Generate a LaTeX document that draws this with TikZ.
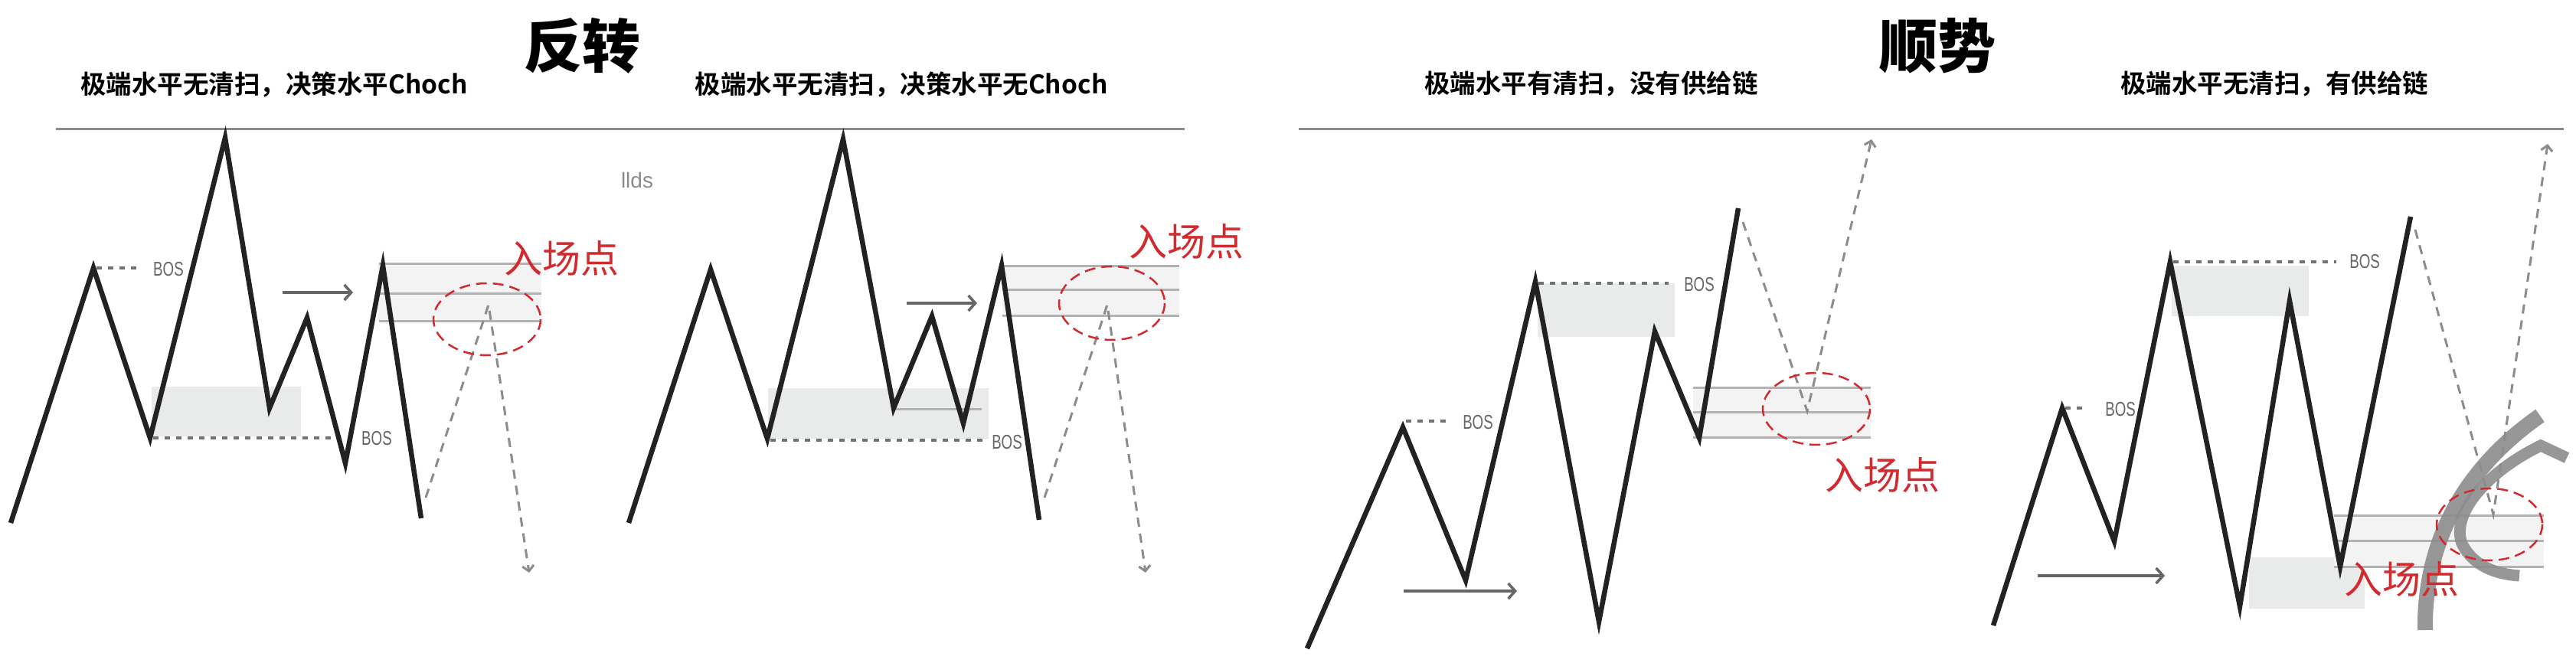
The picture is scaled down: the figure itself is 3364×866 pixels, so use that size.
\documentclass[tikz,border=0pt]{standalone}
\usepackage{fontspec}
\usetikzlibrary{arrows.meta}
\newfontfamily\cjk{Noto Sans CJK SC}[BoldFont={Noto Sans CJK SC Bold}]
\newfontfamily\cjkblack{Noto Sans CJK SC Black}
\newfontfamily\bosfont[FakeStretch=0.72]{Liberation Sans}
\definecolor{linha}{HTML}{222222}
\definecolor{cinza}{HTML}{8C8C8C}
\definecolor{zona}{HTML}{F3F3F3}
\definecolor{caixa}{HTML}{E9EAEA}
\definecolor{vermelho}{HTML}{D12B2F}
\begin{document}
\begin{tikzpicture}[x=1pt,y=-1pt,
	grafico/.style={line width=6.5pt, color=linha, miter limit=20},
	bosline/.style={line width=3.5pt, color=black!55, dash pattern=on 7pt off 8pt},
	projecao/.style={line width=3pt, color=black!45, dash pattern=on 12pt off 9pt, -{Straight Barb[length=7pt,width=15pt]}},
	seta/.style={line width=3.5pt, color=black!60, -{Straight Barb[length=9pt,width=20pt]}},
	zonalinha/.style={line width=3pt, color=black!30},
	entrada/.style={line width=2.5pt, color=vermelho, dash pattern=on 14pt off 8pt},
	titulo/.style={inner sep=0pt, font=\cjkblack\fontsize{76}{80}\selectfont},
	subtitulo/.style={inner sep=0pt, font=\cjk\bfseries\fontsize{33.5}{38}\selectfont},
	entradatxt/.style={inner sep=0pt, text=vermelho, font=\cjk\fontsize{50}{56}\selectfont},
	bos/.style={inner sep=0pt, text=black!60, font=\bosfont\fontsize{26}{28}\selectfont},
	regua/.style={line width=3pt, color=black!45}]
	\useasboundingbox (0,0) rectangle (3364,866); %Tamanho da figura
						%Titulos
	\node[subtitulo] (sub1) at (358,110) {极端水平无清扫，决策水平Choch};
	\node[titulo] (tit1) at (760,60) {反转};
	\node[subtitulo] (sub2) at (1177,110) {极端水平无清扫，决策水平无Choch};
	\node[subtitulo] (sub3) at (2078,110) {极端水平有清扫，没有供给链};
	\node[titulo] (tit2) at (2530,60) {顺势};
	\node[subtitulo] (sub4) at (2970,110) {极端水平无清扫，有供给链};
	\draw[regua] (73,169) -- (1547,169); %Linha reversao
	\draw[regua] (1696,169) -- (3348,169); %Linha tendencia
	\node[inner sep=0pt, text=black!45, font=\fontspec{Liberation Sans}\fontsize{28}{30}\selectfont] (llds) at (832,235) {llds};
						%Painel 1
	\fill[caixa] (198,505) rectangle (393,570); %Caixa
	\fill[zona] (493,345) rectangle (707,419); %Zona
	\foreach \y in {345,383,419} \draw[zonalinha] (495,\y) -- (707,\y);
	\draw[bosline] (126,350) -- (180,350); %BOS alto
	\node[bos] (bos1) at (220,352) {BOS};
	\draw[bosline] (200,572) -- (445,572); %BOS baixo
	\node[bos] (bos2) at (492,573) {BOS};
	\draw[seta] (369,382) -- (461,382);
	\draw[grafico] (14,683) -- (122,350) -- (196,572) -- (294,180) -- (352,533) -- (401,415) -- (451,605) -- (500,347) -- (550,677);
	\draw[projecao] (556,650) -- (638,398) -- (691,748);
	\draw[entrada] (636,417) ellipse [x radius=70, y radius=47];
	\node[entradatxt] (ent1) at (733,337) {入场点};
						%Painel 2
	\fill[caixa] (1003,507) rectangle (1291,573);
	\fill[zona] (1309,348) rectangle (1540,412);
	\foreach \y in {348,378,412} \draw[zonalinha] (1309,\y) -- (1540,\y);
	\draw[zonalinha] (1169,534) -- (1282,534); %Linha da minima
	\draw[bosline] (1006,575) -- (1285,575);
	\node[bos] (bos3) at (1315,578) {BOS};
	\draw[seta] (1184,396) -- (1276,396);
	\draw[grafico] (821,683) -- (928,352) -- (1002,573) -- (1101,182) -- (1167,533) -- (1217,413) -- (1258,553) -- (1308,347) -- (1357,679);
	\draw[projecao] (1364,650) -- (1446,398) -- (1496,748);
	\draw[entrada] (1452,396) ellipse [x radius=69, y radius=48];
	\node[entradatxt] (ent2) at (1549,315) {入场点};
						%Painel 3
	\fill[caixa] (2008,370) rectangle (2187,440);
	\fill[zona] (2211,506) rectangle (2443,571);
	\foreach \y in {506,538,571} \draw[zonalinha] (2211,\y) -- (2443,\y);
	\draw[bosline] (2009,370) -- (2179,370);
	\node[bos] (bos4) at (2219,372) {BOS};
	\draw[bosline] (1836,550) -- (1889,550);
	\node[bos] (bos5) at (1930,552) {BOS};
	\draw[seta] (1833,772) -- (1981,772);
	\draw[grafico] (1707,847) -- (1832,558) -- (1914,758) -- (2005,368) -- (2088,812) -- (2161,433) -- (2219,572) -- (2270,272);
	\draw[projecao] (2276,290) -- (2360,537) -- (2444,182);
	\draw[entrada] (2372,534) ellipse [x radius=70, y radius=47];
	\node[entradatxt] (ent3) at (2458,620) {入场点};
						%Painel 4
	\fill[caixa] (2836,347) rectangle (3015,413);
	\fill[caixa] (2937,728) rectangle (3088,795);
	\fill[zona] (3048,673) rectangle (3322,740);
	\foreach \y in {673,706,740} \draw[zonalinha] (3048,\y) -- (3322,\y);
	\draw[bosline] (2838,342) -- (3051,342);
	\node[bos] (bos6) at (3088,342) {BOS};
	\draw[bosline] (2697,533) -- (2725,533);
	\node[bos] (bos7) at (2769,535) {BOS};
	\draw[seta] (2661,752) -- (2827,752);
	\draw[grafico] (2603,817) -- (2693,533) -- (2761,707) -- (2834,342) -- (2925,792) -- (2990,393) -- (3056,740) -- (3148,283);
	\draw[projecao] (3154,300) -- (3256,672) -- (3327,188);
	\begin{scope} %Marca d'agua
		\clip (3100,480) rectangle (3364,823);
		\draw[line width=20pt, color=cinza, opacity=0.9] (3317,543) .. controls (3235,600) and (3165,690) .. (3167,823);
		\draw[line width=15pt, color=cinza, opacity=0.9] (3352,598) -- (3318,582) .. controls (3250,615) and (3200,670) .. (3215,710) .. controls (3230,740) and (3260,750) .. (3290,752);
	\end{scope}
	\draw[entrada] (3251,685) ellipse [x radius=69, y radius=47];
	\node[entradatxt] (ent4) at (3136,756) {入场点};
\end{tikzpicture}
\end{document}
